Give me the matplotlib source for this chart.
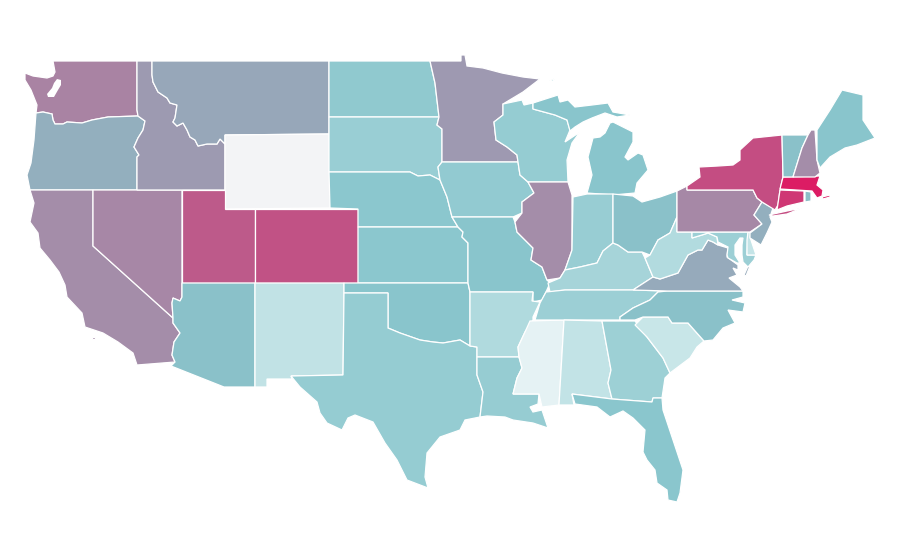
import matplotlib
matplotlib.use('Agg')
from matplotlib import pyplot as plt
from matplotlib.colors import LinearSegmentedColormap, Normalize
from matplotlib.patches import Polygon

# index per state
states = ['WA', 'OR', 'CA', 'NV', 'ID', 'MT', 'WY', 'UT', 'CO', 'AZ', 'NM', 'ND', 'SD', 'NE', 'KS', 'OK', 'TX',
          'MN', 'IA', 'MO', 'AR', 'LA', 'WI', 'IL', 'MS', 'MI', 'IN', 'KY', 'TN', 'AL', 'OH', 'GA', 'FL', 'SC',
          'NC', 'VA', 'WV', 'MD', 'DE', 'PA', 'NJ', 'NY', 'CT', 'RI', 'MA', 'VT', 'NH', 'ME']
values = [0.56, 0.39, 0.52, 0.545, 0.47, 0.42, 0.0, 0.72, 0.75, 0.32, 0.14, 0.28, 0.25, 0.29, 0.29, 0.30, 0.265,
          0.475, 0.27, 0.30, 0.185, 0.26, 0.265, 0.52, 0.04, 0.30, 0.255, 0.215, 0.245, 0.135, 0.32, 0.24, 0.295, 0.12,
          0.32, 0.41, 0.18, 0.245, 0.13, 0.54, 0.39, 0.775, 0.86, 0.33, 0.965, 0.32, 0.52, 0.30]

# outlines in picture pixels (x, y), a state can have several pieces
outlines = {
    'WA': [[(53, 61), (137, 61), (137, 110), (138, 116), (108, 117), (92, 120), (82, 123), (67, 122), (63, 124),
            (55, 124), (53, 120), (52, 114), (43, 112), (36, 113), (37, 105), (35, 100), (31, 90), (25, 80), (25, 73),
            (33, 76), (47, 78), (53, 76), (55, 72)]],
    'OR': [[(36, 113), (43, 112), (52, 114), (53, 120), (55, 124), (63, 124), (67, 122), (82, 123), (92, 120),
            (108, 117), (138, 116), (145, 121), (143, 130), (138, 138), (134, 147), (139, 155), (137, 157), (137, 190),
            (30, 190), (27, 175), (31, 163), (34, 140)]],
    'CA': [[(30, 190), (93, 190), (93, 246), (173, 318), (173, 323), (180, 333), (174, 342), (172, 355), (175, 362),
            (137, 365), (133, 353), (118, 342), (103, 333), (85, 327), (82, 313), (67, 297), (65, 285), (59, 272),
            (50, 260), (40, 248), (38, 233), (30, 222), (34, 203)],
           [(92, 337), (95, 337), (95, 339), (92, 339)]],
    'NV': [[(93, 190), (182, 190), (182, 297), (180, 301), (173, 298), (172, 303), (173, 318), (93, 246)]],
    'ID': [[(137, 61), (152, 61), (152, 75), (153, 82), (158, 92), (167, 98), (170, 103), (177, 105), (175, 118),
            (173, 122), (177, 126), (183, 123), (187, 130), (190, 137), (195, 140), (198, 146), (207, 144), (217, 144),
            (220, 139), (225, 144), (225, 190), (137, 190), (137, 157), (139, 155), (134, 147), (138, 138), (143, 130),
            (145, 121), (138, 116), (137, 110)]],
    'MT': [[(152, 61), (329, 61), (329, 134), (225, 135), (225, 144), (220, 139), (217, 144), (207, 144), (198, 146),
            (195, 140), (190, 137), (187, 130), (183, 123), (177, 126), (173, 122), (175, 118), (177, 105), (170, 103),
            (167, 98), (158, 92), (153, 82), (152, 75)]],
    'WY': [[(225, 135), (329, 134), (330, 208), (225, 209)]],
    'UT': [[(182, 190), (225, 190), (225, 209), (255, 209), (255, 283), (182, 283)]],
    'CO': [[(255, 209), (358, 209), (358, 283), (255, 283)]],
    'AZ': [[(182, 283), (255, 283), (255, 387), (224, 387), (171, 366), (175, 362), (172, 355), (174, 342), (180, 333),
            (173, 323), (173, 318), (172, 303), (173, 298), (180, 301), (182, 297)]],
    'NM': [[(255, 283), (344, 283), (344, 293), (343, 375), (291, 376), (292, 379), (267, 379), (267, 387), (255, 387)]],
    'ND': [[(329, 61), (430, 61), (435, 83), (439, 117), (329, 117)]],
    'SD': [[(329, 117), (439, 117), (437, 125), (442, 129), (442, 162), (438, 167), (440, 180), (430, 175), (418, 176),
            (410, 172), (329, 172)]],
    'NE': [[(329, 172), (410, 172), (418, 176), (430, 175), (440, 180), (447, 197), (452, 217), (458, 227), (358, 227),
            (358, 209), (330, 208)]],
    'KS': [[(358, 227), (458, 227), (463, 232), (462, 237), (468, 243), (468, 283), (358, 283)]],
    'OK': [[(344, 283), (468, 283), (470, 292), (470, 346), (460, 340), (443, 343), (433, 342), (420, 340), (400, 333),
            (388, 328), (388, 293), (344, 293)]],
    'TX': [[(344, 293), (388, 293), (388, 328), (400, 333), (420, 340), (433, 342), (443, 343), (460, 340), (470, 346),
            (477, 347), (477, 375), (483, 392), (480, 417), (465, 420), (460, 430), (440, 437), (427, 453), (425, 477),
            (428, 488), (407, 480), (397, 460), (385, 443), (373, 422), (355, 415), (348, 418), (342, 430), (327, 423),
            (320, 413), (317, 402), (300, 387), (291, 376), (343, 375)]],
    'MN': [[(430, 61), (461, 61), (461, 55), (465, 55), (467, 66), (483, 68), (502, 73), (523, 77), (540, 79),
            (523, 92), (503, 104), (503, 115), (494, 122), (496, 140), (507, 147), (517, 155), (518, 162), (442, 162),
            (442, 129), (437, 125), (439, 117), (435, 83)]],
    'IA': [[(442, 162), (518, 162), (520, 175), (528, 182), (534, 193), (522, 202), (522, 213), (513, 217), (452, 217),
            (447, 197), (440, 180), (438, 167)]],
    'MO': [[(452, 217), (513, 217), (515, 222), (517, 232), (533, 248), (531, 260), (542, 267), (547, 280), (550, 283),
            (546, 292), (542, 300), (533, 302), (533, 292), (470, 292), (468, 283), (468, 243), (462, 237), (463, 232),
            (458, 227)]],
    'AR': [[(470, 292), (533, 292), (532, 301), (540, 302), (533, 317), (533, 320), (525, 332), (518, 347), (519, 357),
            (477, 357), (477, 347), (470, 346)]],
    'LA': [[(477, 357), (519, 357), (522, 368), (517, 378), (513, 394), (539, 394), (538, 404), (530, 407), (533, 412),
            (542, 410), (548, 428), (533, 423), (513, 420), (505, 417), (487, 416), (480, 417), (483, 392), (477, 375)]],
    'WI': [[(503, 104), (522, 100), (524, 105), (533, 103), (533, 109), (555, 115), (567, 120), (570, 130), (565, 142),
            (580, 132), (572, 143), (567, 160), (568, 182), (528, 182), (520, 175), (518, 162), (517, 155), (507, 147),
            (496, 140), (494, 122), (503, 115)]],
    'IL': [[(528, 182), (568, 182), (572, 195), (572, 250), (565, 270), (560, 278), (547, 280), (542, 267), (531, 260),
            (533, 248), (517, 232), (515, 222), (522, 213), (522, 202), (534, 193)]],
    'MS': [[(530, 321), (564, 320), (559, 405), (542, 407), (539, 394), (513, 394), (517, 378), (522, 368), (519, 357),
            (518, 347), (525, 332)]],
    'MI': [[(533, 103), (558, 95), (560, 102), (568, 100), (575, 107), (592, 105), (608, 103), (613, 112), (630, 115),
            (617, 117), (605, 113), (592, 118), (583, 122), (575, 127), (570, 131), (567, 120), (555, 115), (533, 109)],
           [(605, 133), (610, 123), (613, 122), (633, 132), (633, 142), (625, 157), (628, 160), (638, 153), (643, 155),
            (648, 170), (637, 183), (635, 193), (613, 195), (587, 193), (592, 175), (588, 157), (593, 138), (600, 137)],
           [(549, 81), (555, 78), (553, 81)]],
    'IN': [[(573, 197), (587, 194), (613, 194), (613, 243), (603, 251), (597, 263), (580, 267), (565, 270), (572, 250)]],
    'KY': [[(565, 270), (580, 267), (597, 263), (603, 251), (613, 243), (618, 245), (628, 252), (642, 252), (645, 258),
            (653, 277), (633, 290), (565, 290), (550, 292), (548, 283), (560, 278)]],
    'TN': [[(546, 292), (565, 290), (633, 290), (667, 291), (658, 292), (650, 300), (633, 308), (620, 317), (620, 320),
            (535, 320), (540, 303)]],
    'AL': [[(564, 320), (602, 321), (611, 370), (608, 383), (612, 399), (572, 394), (574, 405), (559, 405)]],
    'OH': [[(613, 194), (633, 196), (642, 202), (660, 197), (677, 191), (677, 217), (670, 233), (658, 240), (650, 255),
            (642, 252), (628, 252), (618, 245), (613, 243)]],
    'GA': [[(602, 321), (635, 321), (647, 337), (663, 358), (670, 373), (665, 378), (662, 398), (653, 398), (652, 402),
            (612, 399), (608, 383), (611, 370)]],
    'FL': [[(572, 394), (612, 399), (652, 402), (653, 398), (662, 398), (663, 410), (673, 440), (683, 470), (680, 493),
            (677, 502), (668, 500), (667, 490), (657, 483), (655, 470), (647, 460), (643, 452), (645, 430), (633, 418),
            (623, 411), (610, 417), (597, 407), (575, 404)]],
    'SC': [[(635, 325), (643, 317), (668, 317), (672, 323), (688, 323), (704, 341), (697, 347), (690, 358), (670, 373),
            (663, 358), (647, 337)]],
    'NC': [[(667, 291), (743, 291), (743, 297), (732, 300), (745, 303), (743, 312), (728, 310), (735, 323), (723, 328),
            (713, 340), (704, 341), (688, 323), (672, 323), (668, 317), (643, 317), (635, 320), (620, 320), (620, 317),
            (633, 308), (650, 300), (658, 292)]],
    'VA': [[(633, 290), (653, 277), (660, 279), (678, 273), (688, 255), (698, 250), (702, 250), (708, 240), (713, 242),
            (718, 245), (728, 248), (727, 257), (738, 265), (738, 270), (733, 268), (737, 275), (729, 278), (740, 287),
            (743, 291), (667, 291)],
           [(750, 266), (746, 276), (744, 275), (748, 266)]],
    'WV': [[(677, 217), (677, 232), (692, 232), (692, 238), (702, 235), (708, 233), (717, 237), (718, 245), (713, 242),
            (708, 240), (702, 250), (698, 250), (688, 255), (678, 273), (660, 279), (653, 277), (645, 258), (650, 255),
            (658, 240), (670, 233)]],
    'MD': [[(692, 232), (748, 232), (747, 255), (756, 255), (754, 260), (748, 267), (743, 262), (742, 255), (742, 245),
            (743, 238), (740, 238), (735, 245), (735, 255), (740, 263), (737, 263), (728, 258), (727, 255), (728, 247),
            (718, 242), (717, 237), (708, 233), (702, 235), (692, 238)]],
    'DE': [[(748, 232), (751, 233), (750, 237), (753, 246), (756, 255), (747, 255), (747, 240)]],
    'PA': [[(677, 191), (687, 186), (687, 190), (753, 190), (757, 198), (762, 202), (754, 215), (762, 224), (750, 232),
            (677, 232)]],
    'NJ': [[(762, 202), (773, 208), (770, 217), (772, 222), (767, 233), (761, 245), (750, 238), (750, 233), (762, 224),
            (754, 215)]],
    'NY': [[(687, 186), (700, 177), (699, 167), (718, 166), (733, 165), (740, 160), (740, 150), (753, 138), (782, 135),
            (783, 177), (780, 190), (778, 205), (775, 210), (762, 202), (757, 198), (753, 190), (687, 190)],
           [(769, 215), (787, 211), (802, 208), (787, 214), (773, 216)]],
    'CT': [[(780, 190), (804, 191), (804, 202), (787, 206), (777, 210)]],
    'RI': [[(805, 191), (811, 192), (811, 201), (805, 202)]],
    'MA': [[(783, 177), (820, 176), (817, 185), (823, 190), (822, 196), (817, 198), (812, 191), (780, 189)],
           [(822, 197), (830, 195), (830, 197), (823, 199)]],
    'VT': [[(782, 135), (808, 135), (802, 148), (793, 177), (783, 177)]],
    'NH': [[(811, 130), (815, 130), (817, 160), (820, 173), (815, 177), (793, 177), (802, 148), (808, 135)]],
    'ME': [[(817, 130), (830, 110), (842, 90), (863, 95), (863, 120), (875, 138), (857, 145), (845, 148), (830, 157),
            (820, 168), (817, 160)]],
}

# Puget Sound sits inside the WA outline
water = [(57, 79), (61, 80), (61, 85), (58, 90), (54, 97), (48, 97), (47, 94), (52, 88), (54, 83)]

cmap = LinearSegmentedColormap.from_list('index', [(0, '#f3f4f6'), (0.04, '#e5f2f4'), (0.14, '#c0e2e5'),
                                                   (0.3, '#88c5cc'), (1, '#e0145f')])
norm = Normalize(0, 1)

fig = plt.figure(figsize=(9, 5.6), dpi=100)
ax = fig.add_axes([0, 0, 1, 1])

for name, val in zip(states, values):
    for piece in outlines[name]:
        ax.add_patch(Polygon(piece, closed=True, facecolor=cmap(norm(val)), edgecolor='white', linewidth=0.9))
ax.add_patch(Polygon(water, closed=True, facecolor='white', edgecolor='none'))

ax.set_xlim(0, 900)
ax.set_ylim(560, 0)
ax.axis('off')

plt.savefig('out.png', dpi=100)
